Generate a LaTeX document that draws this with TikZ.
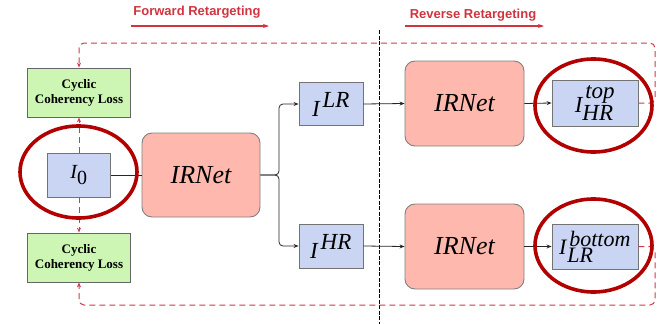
\documentclass[tikz,border=0pt]{standalone}
\usepackage{fontspec}
\setmainfont{Liberation Serif}
\newfontfamily\sansbold{Liberation Sans}
\usetikzlibrary{arrows.meta,shapes.geometric}
\definecolor{boxblue}{HTML}{C9D5F2}
\definecolor{boxgreen}{HTML}{CDF5B3}
\definecolor{boxpink}{HTML}{FFB8AE}
\definecolor{redtxt}{HTML}{D0343F}
\definecolor{reddash}{HTML}{D03A4A}
\definecolor{ellred}{HTML}{B20000}
\tikzset{
  imgbox/.style={draw=black!55, line width=0.9pt, fill=boxblue, inner sep=0pt},
  lossbox/.style={draw=black!60, line width=0.8pt, fill=boxgreen, inner sep=0pt, align=center,
    font=\fontsize{13}{15}\selectfont\bfseries},
  netbox/.style={draw=black!50, line width=0.9pt, fill=boxpink, rounded corners=10pt, inner sep=0pt,
    minimum width=118pt, minimum height=84pt, font=\fontsize{26}{28}\selectfont\itshape},
  flow/.style={draw=black!85, line width=0.8pt, -{Stealth[length=5pt,width=4pt]}},
  plain/.style={draw=black!85, line width=0.8pt},
  cyc/.style={draw=reddash, line width=1pt, dash pattern=on 6pt off 4pt, rounded corners=5pt},
  cycarrow/.style={cyc, -{Stealth[length=5pt,width=4pt]}},
  ringmark/.style={draw=ellred, line width=3.6pt},
  headtxt/.style={text=redtxt, font=\sansbold\fontsize{13}{15}\selectfont\bfseries},
  headarrow/.style={draw=redtxt, line width=1.2pt, -{Stealth[length=6pt,width=4pt]}},
}
\begin{document}
\begin{tikzpicture}[x=1pt,y=-1pt]
\useasboundingbox (0,0) rectangle (657,324);
% headings
\node[headtxt] (fwd) at (197,12) {Forward Retargeting};
\coordinate (fa1) at (131,26);
\coordinate (fa2) at (269,26);
\draw[headarrow] (fa1) -- (fa2);
\node[headtxt] (rev) at (473,15) {Reverse Retargeting};
\coordinate (ra1) at (405,26);
\coordinate (ra2) at (544,26);
\draw[headarrow] (ra1) -- (ra2);
% divider
\coordinate (dv1) at (379,30);
\coordinate (dv2) at (379,324);
\draw[black, line width=0.8pt, dash pattern=on 4pt off 1.5pt] (dv1) -- (dv2);
% boxes
\node[lossbox, minimum width=103pt, minimum height=49pt] (loss1) at (79,92.5) {Cyclic\\Coherency Loss};
\node[lossbox, minimum width=103pt, minimum height=49pt] (loss2) at (79,257.5) {Cyclic\\Coherency Loss};
\node[imgbox, minimum width=63pt, minimum height=44pt, font=\fontsize{20}{22}\selectfont] (I0) at (79,175) {$\textit{I}_{\textrm{0}}$};
\node[netbox] (net1) at (201,175) {IRNet};
\node[imgbox, minimum width=64pt, minimum height=43pt, font=\fontsize{23}{25}\selectfont] (ILR) at (331,104) {$\textit{I}^{\,\textit{LR}}$};
\node[imgbox, minimum width=64pt, minimum height=44pt, font=\fontsize{23}{25}\selectfont] (IHR) at (331,246) {$\textit{I}^{\,\textit{HR}}$};
\node[netbox, minimum width=119pt, minimum height=85pt] (net2) at (464.5,103.5) {IRNet};
\node[netbox, minimum width=119pt, minimum height=85pt] (net3) at (464.5,246.5) {IRNet};
\node[imgbox, minimum width=86pt, minimum height=46pt, font=\fontsize{23}{25}\selectfont] (Itop) at (595,103) {$\textit{I}^{\,\textit{top}}_{\textit{HR}}$};
\node[imgbox, minimum width=86pt, minimum height=45pt, font=\fontsize{22}{24}\selectfont] (Ibot) at (595,246.5) {$\textit{I}^{\kern3pt\textit{bottom}}_{\kern1pt\textit{LR}}$};
% connectors
\draw[plain] (I0.east) -- (net1.west);
\coordinate (br) at (279,175);
\draw[flow, rounded corners=4pt] (net1.east) -- (br) |- (ILR.west);
\draw[flow, rounded corners=4pt] (net1.east) -- (br) |- (IHR.west);
\draw[flow] (ILR.east) -- (net2.west);
\draw[flow] (IHR.east) -- (net3.west);
\draw[flow] (net2.east) -- (Itop.west);
\draw[flow] (net3.east) -- (Ibot.west);
% cyclic loss paths
\coordinate (tr) at (655,43);
\coordinate (brc) at (655,305);
\draw[cycarrow] (Itop.east) -- (tr |- Itop.east) -- (tr) -- (loss1.north |- tr) -- (loss1.north);
\draw[cycarrow] (Ibot.east) -- (brc |- Ibot.east) -- (brc) -- (loss2.south |- brc) -- (loss2.south);
\draw[cycarrow] (I0.north) -- (loss1.south);
\draw[cycarrow] (I0.south) -- (loss2.north);
% highlight ellipses
\node[ringmark, ellipse, minimum width=117pt, minimum height=92pt, inner sep=0pt] (e0) at (78.5,172) {};
\node[ringmark, ellipse, minimum width=117pt, minimum height=93pt, inner sep=0pt] (e1) at (593.5,105.5) {};
\node[ringmark, ellipse, minimum width=117pt, minimum height=93pt, inner sep=0pt] (e2) at (593.5,245.5) {};
\end{tikzpicture}
\end{document}
